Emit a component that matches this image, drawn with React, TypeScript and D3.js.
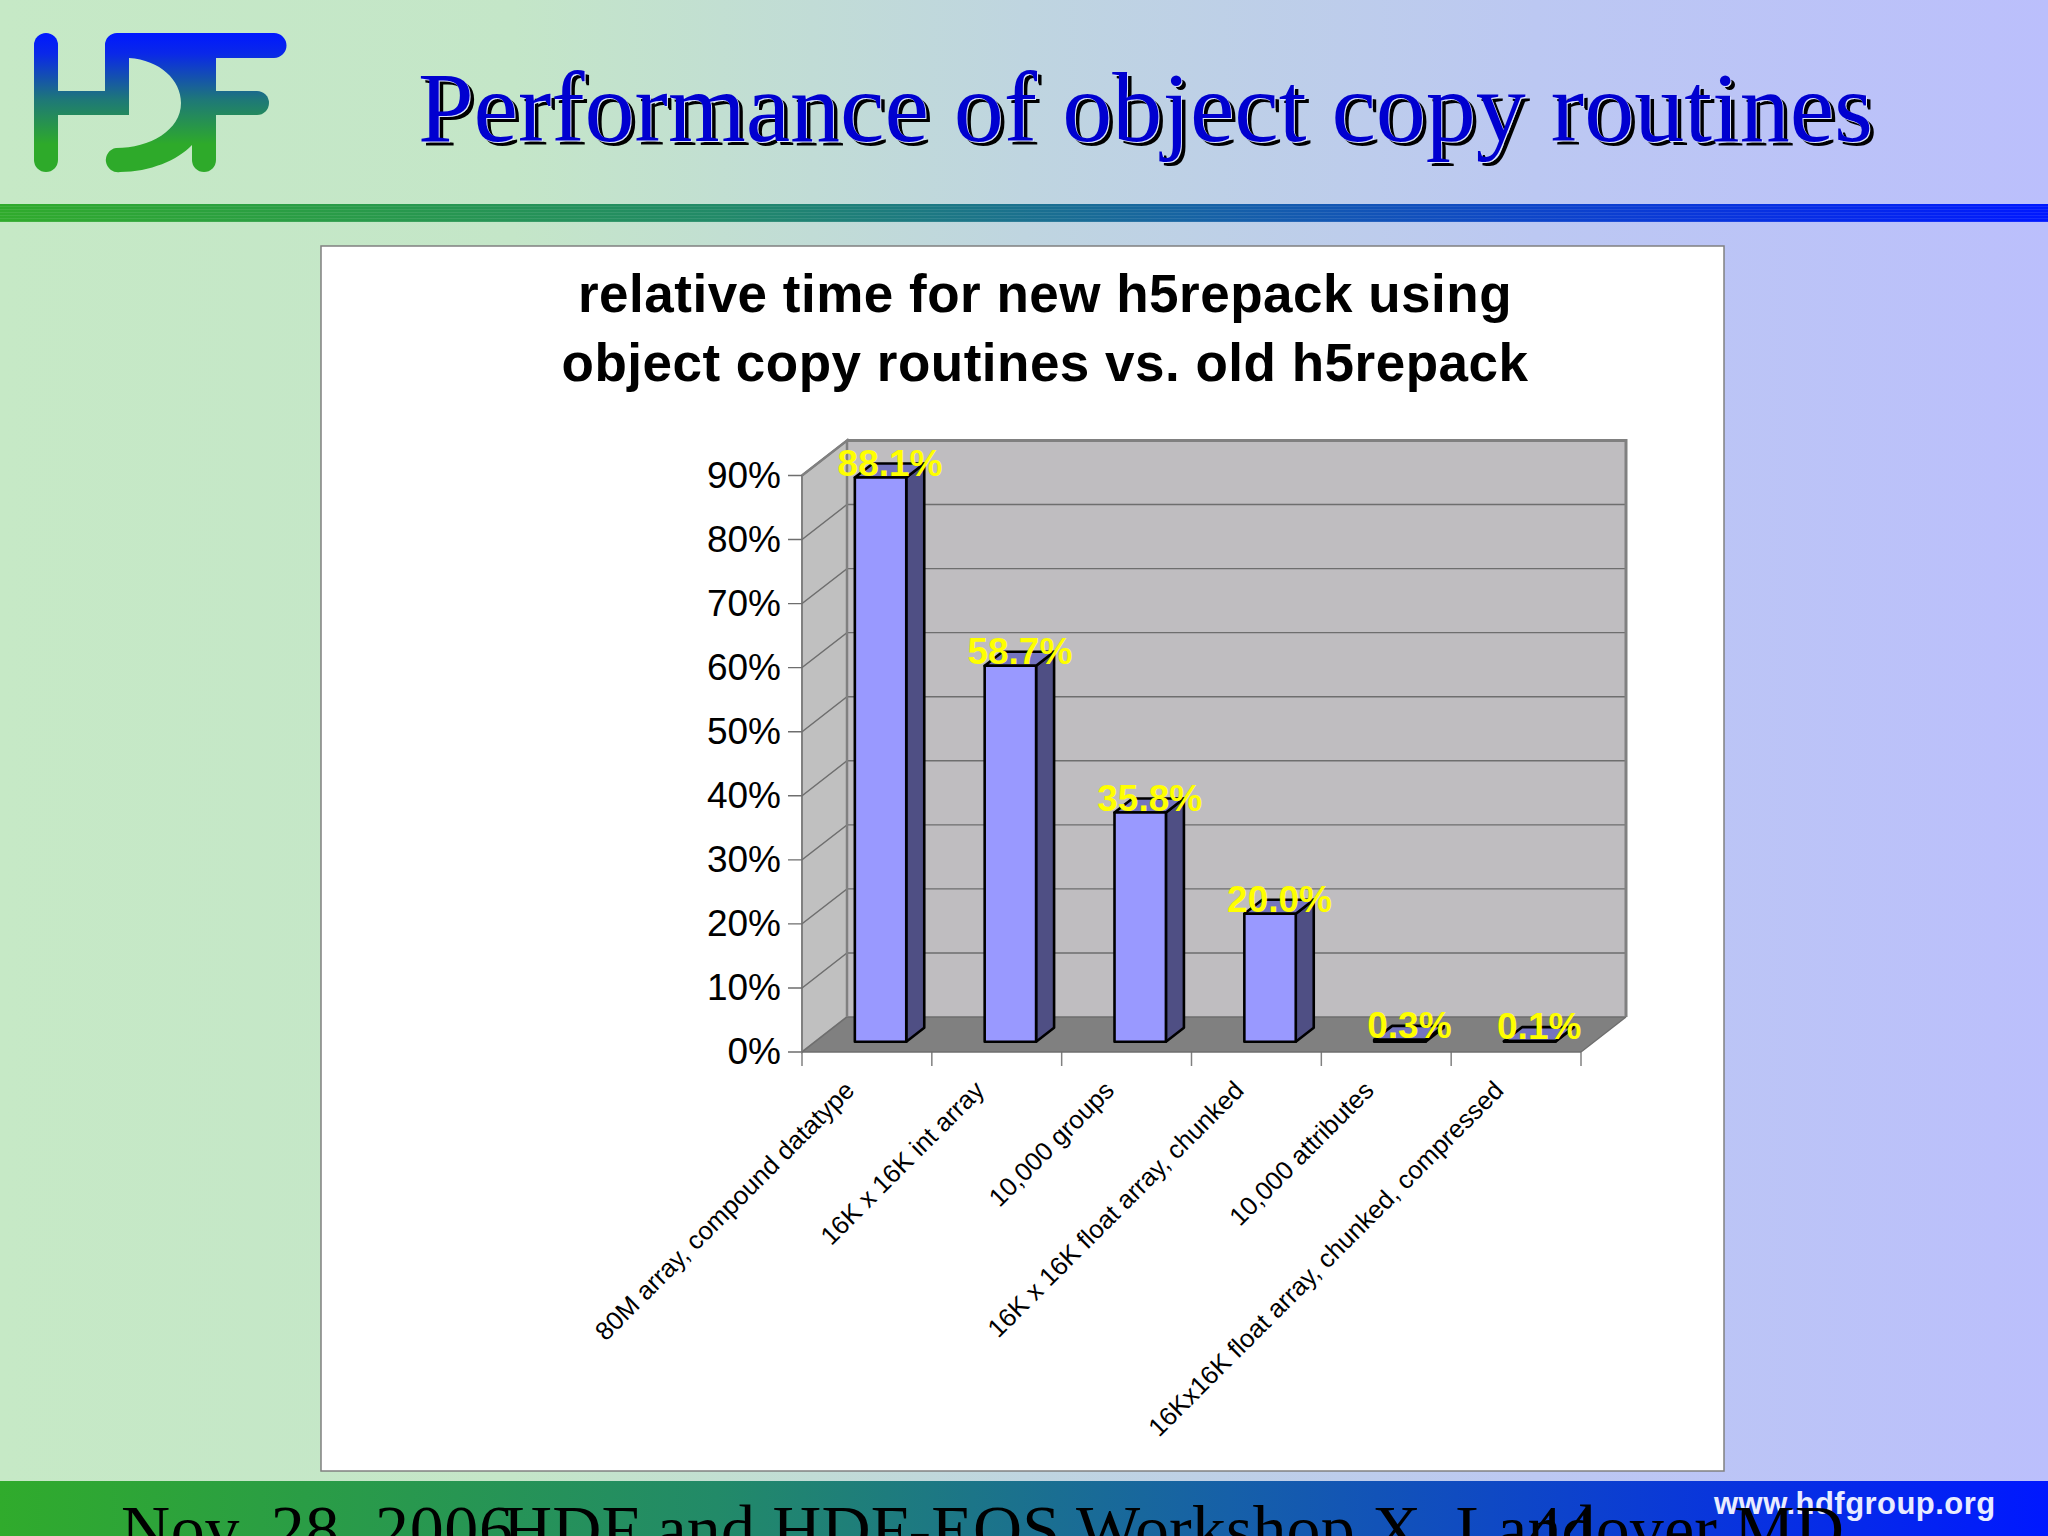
import React from "react";
import * as d3 from "d3";

const slideTitle = "Performance of object copy routines";
const chartTitleLines = ["relative time for new h5repack using", "object copy routines vs. old h5repack"];
const categories = [
  "80M array, compound datatype",
  "16K x 16K int array",
  "10,000 groups",
  "16K x 16K float array, chunked",
  "10,000 attributes",
  "16Kx16K float array, chunked, compressed",
];
const values = [88.1, 58.7, 35.8, 20.0, 0.3, 0.1];
const yTicks = [0, 10, 20, 30, 40, 50, 60, 70, 80, 90];
const footerLeft = "Nov. 28, 2006";
const footerMid = "HDF and HDF-EOS Workshop X, Landover MD";
const footerPage = "44";
const footerUrl = "www.hdfgroup.org";

const W = 2048, H = 1536;
const x = d3.scaleBand<string>().domain(categories).range([802, 1581]).paddingInner(0.604).paddingOuter(0.302);
const y = d3.scaleLinear().domain([0, 90]).range([1052, 475.5]);
const DX = 45, DY = -35;
const Z0 = 0.314, Z1 = 0.714;
const proj = (px: number, py: number, z: number): [number, number] => [px + DX * z, py + DY * z];
const poly = (pts: [number, number][]) => d3.line()(pts)! + "Z";
const sans = "'Liberation Sans', Arial, sans-serif";
const serif = "'Liberation Serif', 'Times New Roman', serif";

export default function App() {
  const x0 = 802, x1 = 1581, y0 = y(0), yT = y(90);
  const step = x.step();
  const boundaries = d3.range(categories.length + 1).map((i) => x0 + i * step);
  const stripes = d3.range(206, 222, 3);
  return (
    <svg width={W} height={H} viewBox={`0 0 ${W} ${H}`} style={{ position: "absolute", left: 0, top: 0, display: "block" }}>
      <defs>
        <linearGradient id="bg" x1="0" x2="1" y1="0" y2="0">
          <stop offset="0" stopColor="#c6e9c6" />
          <stop offset="0.25" stopColor="#c4e6c8" />
          <stop offset="0.5" stopColor="#bfd5e0" />
          <stop offset="0.75" stopColor="#bcc8f2" />
          <stop offset="1" stopColor="#bbbffc" />
        </linearGradient>
        <linearGradient id="band" x1="0" x2="1" y1="0" y2="0">
          <stop offset="0" stopColor="#30ab2c" />
          <stop offset="0.35" stopColor="#228a68" />
          <stop offset="0.6" stopColor="#1660a8" />
          <stop offset="1" stopColor="#0018ff" />
        </linearGradient>
        <linearGradient id="logo" gradientUnits="userSpaceOnUse" x1="0" x2="0" y1="33" y2="172">
          <stop offset="0" stopColor="#0018ff" />
          <stop offset="0.15" stopColor="#0a28e8" />
          <stop offset="0.48" stopColor="#1e7878" />
          <stop offset="0.8" stopColor="#2eaa2a" />
          <stop offset="1" stopColor="#2eaa2a" />
        </linearGradient>
      </defs>
      <rect width={W} height={H} fill="url(#bg)" />
      {/* logo */}
      <g fill="url(#logo)">
        <rect x={34} y={33} width={24} height={139} rx={12} />
        <rect x={50} y={91} width={79} height={24} />
        <path d="M105,115 L105,45 A12,12 0 0 1 117,33 L274,33 A12.5,12.5 0 0 1 274,58 L129,58 L129,115 Z" />
        <rect x={192} y={45} width={24} height={127} rx={12} />
        <path d="M205,91 L257,91 A12,12 0 0 1 257,115 L205,115 Z" />
        <path d="M129,58 L192,58 L192,145 C178,160 150,172 120,172 A12,12 0 0 1 116,148 C150,148 181,130 181,103 C181,80 160,60 129,58 Z" />
      </g>
      {/* slide title */}
      <g fontFamily={serif} fontSize={100} textAnchor="start">
        <text x={422.5} y={145} fill="#000">{slideTitle}</text>
        <text x={419} y={142} fill="#dfe6ff">{slideTitle}</text>
        <text x={418} y={141} fill="#0000d0">{slideTitle}</text>
      </g>
      <rect x={0} y={204} width={W} height={18} fill="url(#band)" />
      {stripes.map((s) => (
        <rect key={s} x={0} y={s} width={W} height={1} fill="#ffffff" opacity={0.09} />
      ))}
      {/* panel */}
      <rect x={321} y={246} width={1403} height={1225} fill="#fff" stroke="#808080" strokeWidth={1.5} />
      <g fontFamily={sans} fontWeight={700} fontSize={53} letterSpacing={0.5} textAnchor="middle" fill="#000">
        {chartTitleLines.map((l, i) => (
          <text key={l} x={1045} y={312 + i * 69}>{l}</text>
        ))}
      </g>
      {/* 3D box */}
      <path d={poly([proj(x0, y0, 1), proj(x1, y0, 1), proj(x1, yT, 1), proj(x0, yT, 1)])} fill="#bfbdc0" />
      <path d={poly([[x0, y0], proj(x0, y0, 1), proj(x0, yT, 1), [x0, yT]])} fill="#c0c0c0" stroke="#808080" strokeWidth={2} />
      <path d={poly([[x0, y0], [x1, y0], proj(x1, y0, 1), proj(x0, y0, 1)])} fill="#808080" />
      {yTicks.map((t) => (
        <g key={t}>
          <path d={d3.line()([[788, y(t)], [x0, y(t)], proj(x0, y(t), 1), proj(x1, y(t), 1)])!} fill="none" stroke="#6e6e6e" strokeWidth={1.4} />
          <text x={781} y={y(t) + 12} textAnchor="end" fontFamily={sans} fontSize={37} fill="#000">{t}%</text>
        </g>
      ))}
      <path d={d3.line()([proj(x1, y0, 1), proj(x1, yT, 1), proj(x0, yT, 1)])!} fill="none" stroke="#808080" strokeWidth={3} />
      <path d={d3.line()([[x0, yT], proj(x0, yT, 1), proj(x0, y0, 1)])!} fill="none" stroke="#808080" strokeWidth={2.5} />
      <path d={d3.line()([[x1, y0], proj(x1, y0, 1)])!} fill="none" stroke="#6e6e6e" strokeWidth={1.4} />
      {boundaries.map((b) => (
        <line key={b} x1={b} x2={b} y1={y0} y2={y0 + 14} stroke="#808080" strokeWidth={1.5} />
      ))}
      <line x1={x0} x2={x1} y1={y0} y2={y0} stroke="#6e6e6e" strokeWidth={1.5} />
      {/* bars */}
      {categories.map((c, i) => {
        const l = x(c)!, r = l + x.bandwidth(), b = y(0), t = y(values[i]);
        const front: [number, number][] = [proj(l, b, Z0), proj(r, b, Z0), proj(r, t, Z0), proj(l, t, Z0)];
        const side: [number, number][] = [proj(r, b, Z0), proj(r, b, Z1), proj(r, t, Z1), proj(r, t, Z0)];
        const top: [number, number][] = [proj(l, t, Z0), proj(r, t, Z0), proj(r, t, Z1), proj(l, t, Z1)];
        return (
          <g key={c} stroke="#000" strokeWidth={2.6} strokeLinejoin="round" transform="translate(-0.5,0.8)">
            <path d={poly(side)} fill="#4f4f84" />
            <path d={poly(top)} fill="#7474bf" />
            <path d={poly(front)} fill="#9999ff" />
          </g>
        );
      })}
      {categories.map((c, i) => {
        const l = x(c)!, r = l + x.bandwidth(), t = y(values[i]);
        const a = proj(l, t, Z0), b = proj(r, t, Z1);
        return (
          <text key={c} x={(a[0] + b[0]) / 2} y={a[1] - 1} textAnchor="middle" fontFamily={sans} fontWeight={700} fontSize={37} fill="#ffff00">
            {values[i].toFixed(1)}%
          </text>
        );
      })}
      {categories.map((c) => {
        const cx = x(c)! + x.bandwidth() / 2;
        return (
          <text key={c} transform={`translate(${cx - 11},${y0 + 40}) rotate(-45)`} textAnchor="end" fontFamily={sans} fontSize={25.7} fill="#000">{c}</text>
        );
      })}
      {/* footer */}
      <rect x={0} y={1481} width={W} height={55} fill="url(#band)" />
      <text x={1714} y={1514} fontFamily={sans} fontWeight={700} fontSize={31} letterSpacing={0.45} fill="#e8ecff">{footerUrl}</text>
      <g fontFamily={serif} fontSize={68} fill="#000">
        <text x={121} y={1552} letterSpacing={0.6}>{footerLeft}</text>
        <text x={503} y={1552} letterSpacing={0.12}>{footerMid}</text>
        <text x={1528} y={1552}>{footerPage}</text>
      </g>
    </svg>
  );
}
